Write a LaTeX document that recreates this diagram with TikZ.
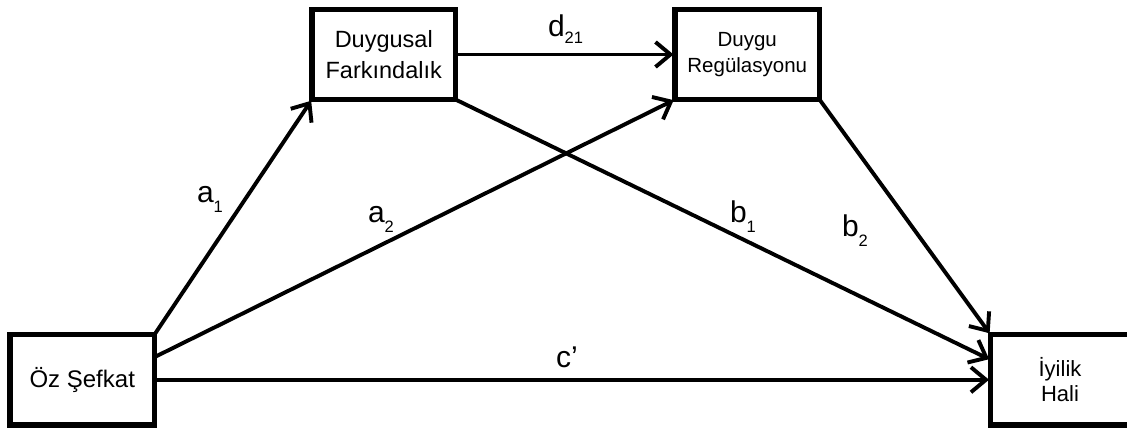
\documentclass[tikz,border=0pt]{standalone}
\usepackage{fontspec}
\setmainfont{Liberation Sans}
\usetikzlibrary{arrows.meta,calc}
\tikzset{
  box/.style={draw=black,line width=5.4pt,rectangle,inner sep=0pt,outer sep=0pt,align=center,fill=white},
  conn/.style={line width=3.9pt,-{Straight Barb[length=15pt,width=25pt,line width=3.9pt]},shorten >=1.5pt},
  lab/.style={anchor=base west,inner sep=0pt,outer sep=0pt,font=\fontsize{30}{30}\selectfont},
}
\newcommand{\lsub}[2][9pt]{\raisebox{-#1}{\fontsize{16.5}{16.5}\selectfont #2}}
\begin{document}
\begin{tikzpicture}[x=1pt,y=-1pt]
\useasboundingbox (0,0) rectangle (1127,431);
\fill[white] (0,0) rectangle (1127,431);
\node[box,minimum width=144.5pt,minimum height=90.5pt,font=\fontsize{24}{29}\selectfont] (oz) at (82.25,379.75) {Öz Şefkat};
\node[box,minimum width=143.5pt,minimum height=90pt,font=\fontsize{23.5}{31}\selectfont] (df) at (383.75,54.5) {Duygusal\\Farkındalık};
\node[box,minimum width=144.5pt,minimum height=90pt,font=\fontsize{20.5}{26}\selectfont] (dr) at (747.25,54.5) {Duygu\\Regülasyonu};
\node[box,minimum width=139pt,minimum height=90.5pt,font=\fontsize{22}{25}\selectfont] (ih) at (1060,379.75) {İyilik\\Hali};
\coordinate (ozq) at ($(oz.north east)!0.25!(oz.south east)$);
\coordinate (ihq) at ($(ih.north west)!0.28!(ih.south west)$);
\draw[conn] (oz.north east) -- (df.south west);
\draw[conn] (ozq) -- (dr.south west);
\draw[conn] (oz.east) -- (ih.west);
\draw[conn] (df.east) -- (dr.west);
\draw[conn] (df.south east) -- (ihq);
\draw[conn] (dr.south east) -- (ih.north west);
\node[lab] (la1) at (197,202) {a\lsub[10pt]{1}};
\node[lab] (la2) at (368,222) {a\lsub[10pt]{2}};
\node[lab] (lb1) at (730,222) {b\lsub[10pt]{1}};
\node[lab] (lb2) at (842,236) {b\lsub[10pt]{2}};
\node[lab] (ld) at (548,36) {d\lsub[7pt]{21}};
\node[lab] (lc) at (556,367) {c’};
\end{tikzpicture}
\end{document}
